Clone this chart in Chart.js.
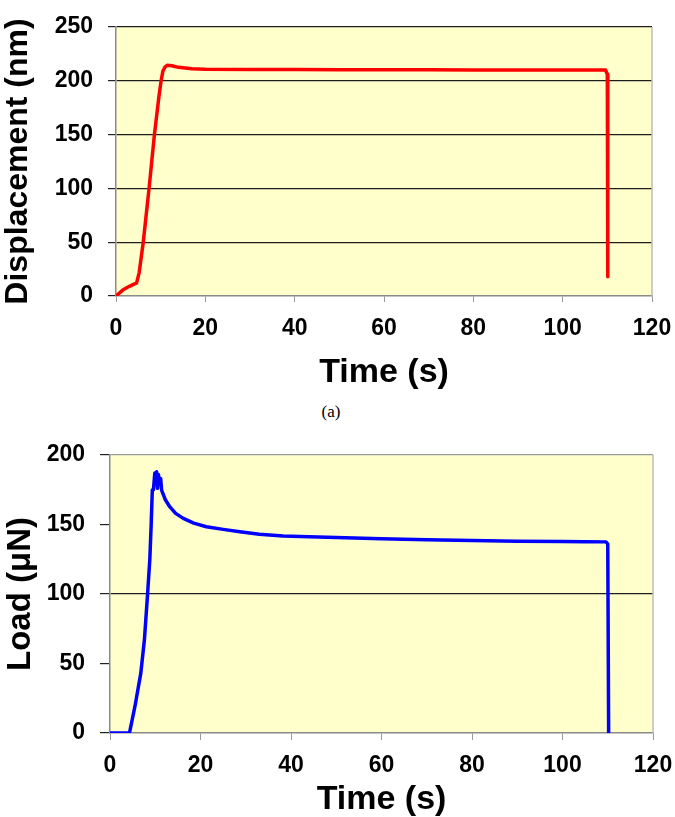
<!DOCTYPE html>
<html>
<head>
<meta charset="utf-8">
<script src="https://cdn.jsdelivr.net/npm/chart.js@4.4.1/dist/chart.umd.min.js"></script>
<style>
  body { margin: 0; background: #fff; width: 675px; height: 817px; position: relative; overflow: hidden; }
  canvas { position: absolute; left: 0; }
  #dispChart { top: 0; }
  #loadChart { top: 430px; }
  #caption { position: absolute; left: 0; width: 662px; top: 401px; text-align: center;
             font: 17px "Liberation Serif", "DejaVu Serif", serif; line-height: 22px; }
</style>
</head>
<body>
<canvas id="dispChart" width="675" height="390"></canvas>
<div id="caption">(a)</div>
<canvas id="loadChart" width="675" height="387"></canvas>
<script>
// displacement vs time (top panel)
const dispTime   = [0, 1.5, 3, 4, 4.6, 5.2, 6.1, 7.4, 8.6, 9.6, 10.1, 10.5, 11.0, 11.5, 12.5, 14, 17, 20, 30, 40, 50, 60, 70, 80, 90, 100, 105, 109.6, 110.0, 110.1];
const dispValues = [0, 5.5, 9, 11, 12, 22, 50, 100, 150, 185, 200, 209, 213, 214.5, 214, 212.5, 211.3, 210.8, 210.5, 210.4, 210.3, 210.2, 210.2, 210.1, 210.1, 210, 210, 210, 206, 18];

// load vs time (bottom panel)
const loadTime   = [0, 4.3, 5.5, 6.8, 7.6, 8.3, 8.8, 9.1, 9.35, 9.6, 9.9, 10.1, 10.3, 10.5, 10.7, 10.9, 11.2, 11.4, 12.2, 13.2, 14.5, 16.2, 18.5, 21.3, 25, 28.7, 33, 38.3, 42, 50, 60, 70, 80, 90, 100, 105, 109.6, 110.0, 110.2];
const loadValues = [0, 0, 18.9, 42.9, 66.9, 99.8, 125, 150, 174.8, 175, 187, 183, 188, 176, 186, 180, 183, 174.8, 168, 162.8, 158, 154.4, 151, 148.4, 146.5, 144.8, 143, 141.7, 141.3, 140.6, 139.8, 139, 138.4, 138, 137.8, 137.6, 137.5, 136, 0];

const timeTicks = [0, 20, 40, 60, 80, 100, 120];
const dispTicks = [0, 50, 100, 150, 200, 250];
const loadTicks = [0, 50, 100, 150, 200];

const FONT = '"Liberation Sans", Arial, sans-serif';

// yellow plot area + light right border
const plotFrame = {
  id: 'plotFrame',
  beforeDraw(chart) {
    const { ctx, chartArea: a } = chart;
    ctx.save();
    ctx.fillStyle = '#FFFFCC';
    ctx.fillRect(a.left, a.top, a.width, a.height);
    ctx.restore();
  },
  beforeDatasetsDraw(chart) {
    const { ctx, chartArea: a } = chart;
    ctx.save();
    ctx.strokeStyle = '#BDBDBD';
    ctx.lineWidth = 1.5;
    ctx.beginPath();
    ctx.moveTo(a.right, a.top);
    ctx.lineTo(a.right, a.bottom);
    ctx.stroke();
    ctx.restore();
  }
};

const toPoints = (xs, ys) => xs.map((x, i) => ({ x: x, y: ys[i] }));

function makeChart(id, o) {
  return new Chart(document.getElementById(id), {
    type: 'line',
    data: {
      datasets: [{
        data: toPoints(o.xs, o.ys),
        borderColor: o.color,
        borderWidth: 3.5,
        borderJoinStyle: 'round',
        borderCapStyle: 'round',
        pointRadius: 0,
        tension: 0,
        fill: false
      }]
    },
    options: {
      responsive: false,
      animation: false,
      devicePixelRatio: 1,
      layout: { padding: { top: o.top, right: o.right, left: 0, bottom: 0 } },
      plugins: { legend: { display: false }, tooltip: { enabled: false } },
      scales: {
        x: {
          type: 'linear', min: 0, max: 120,
          afterBuildTicks: s => { s.ticks = timeTicks.map(v => ({ value: v })); },
          afterFit: s => { s.height = o.xHeight; s.paddingLeft = 0; s.paddingRight = 0; },
          grid: { drawOnChartArea: false, drawTicks: true, tickLength: o.xTick, tickColor: '#9a9a9a' },
          border: { color: '#8a8a8a', width: 1.5 },
          ticks: { padding: o.xPad, color: '#000', font: { family: FONT, size: 23, weight: 'bold' } },
          title: { display: true, text: 'Time (s)', color: '#000', padding: { top: 0, bottom: 0 },
                   font: { family: FONT, size: 34, weight: 'bold', lineHeight: 1 } }
        },
        y: {
          type: 'linear', min: 0, max: o.yMax,
          afterBuildTicks: s => { s.ticks = o.yTicks.map(v => ({ value: v })); },
          afterFit: s => { s.width = o.yWidth; s.paddingTop = 0; s.paddingBottom = 0; },
          grid: {
            color: c => o.gridAt(c.tick.value),
            lineWidth: 1.2,
            drawTicks: true, tickLength: o.yTick, tickColor: '#222'
          },
          border: { color: '#8a8a8a', width: 1.5 },
          ticks: { padding: 15, color: '#000', font: { family: FONT, size: 23, weight: 'bold' } },
          title: { display: true, text: o.yTitle, color: '#000', padding: { top: o.yTitlePad, bottom: 0 },
                   font: { family: FONT, size: o.yTitleSize, weight: 'bold', lineHeight: 1 } }
        }
      }
    },
    plugins: [plotFrame]
  });
}

makeChart('dispChart', {
  xs: dispTime, ys: dispValues, color: '#FF0000',
  top: 27, right: 23, xHeight: 94, yWidth: 116,
  xTick: 6, xPad: 13, yTick: 8,
  yMax: 250, yTicks: dispTicks,
  gridAt: v => (v === 0 ? 'rgba(0,0,0,0)' : '#1e1e1e'),
  yTitle: 'Displacement (nm)', yTitleSize: 32, yTitlePad: 2
});

makeChart('loadChart', {
  xs: loadTime, ys: loadValues, color: '#0000FF',
  top: 25, right: 22, xHeight: 84, yWidth: 110,
  xTick: 7, xPad: 12, yTick: 10,
  yMax: 200, yTicks: loadTicks,
  gridAt: v => (v === 100 ? '#1e1e1e' : v === 200 ? '#9a9a9a' : 'rgba(0,0,0,0)'),
  yTitle: 'Load (\u03bcN)', yTitleSize: 33, yTitlePad: 4
});
</script>
</body>
</html>
